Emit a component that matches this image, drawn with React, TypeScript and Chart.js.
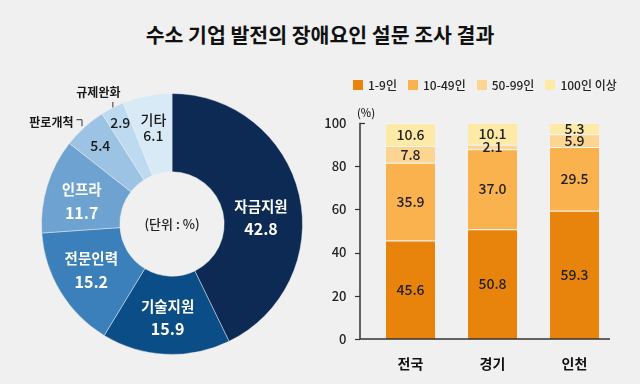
import React, { useEffect, useRef } from "react";
import { Chart, registerables } from "chart.js";

Chart.register(...registerables);

const TITLE = "수소 기업 발전의 장애요인 설문 조사 결과";
const UNIT_TEXT = "(단위 : %)";

const donutLabels = ["자금지원", "기술지원", "전문인력", "인프라", "판로개척", "규제완화", "기타"];
const donutValues = [42.8, 15.9, 15.2, 11.7, 5.4, 2.9, 6.1];
const donutColors = ["#0c2a53", "#0b4d86", "#3b80bb", "#6ea2d1", "#9cc3e4", "#bddaf0", "#d9eaf7"];
// style: where each label sits inside its ring (0 = inner edge, 1 = outer edge), plus a small vertical nudge
const donutLabelPos = [0.5, 0.52, 0.54, 0.54, 0.7, 0.78, 0.58];
const donutLabelNudge = [14, 1, -3, 5, 1, -1, 0];
const donutTextColors = ["#ffffff", "#ffffff", "#ffffff", "#ffffff", "#1a1a1a", "#1a1a1a", "#1a1a1a"];
const donutNameOutside = [false, false, false, false, true, true, false];
const donutBigText = [true, true, true, true, false, false, false];

const barCategories = ["전국", "경기", "인천"];
const seriesNames = ["1-9인", "10-49인", "50-99인", "100인 이상"];
const series1 = [45.6, 50.8, 59.3];
const series2 = [35.9, 37.0, 29.5];
const series3 = [7.8, 2.1, 5.9];
const series4 = [10.6, 10.1, 5.3];
const seriesColors = ["#e8840b", "#f9b24e", "#fdd490", "#feeaa7"];
const yTicks = [0, 20, 40, 60, 80, 100];

const FONT = "'Noto Sans CJK KR', 'Noto Sans', sans-serif";

const donutLabelPlugin = {
  id: "donutLabels",
  afterDatasetsDraw(chart: any) {
    const ctx = chart.ctx;
    const meta = chart.getDatasetMeta(0);
    ctx.save();
    ctx.textAlign = "center";
    ctx.textBaseline = "middle";
    meta.data.forEach((arc: any, i: number) => {
      const p = arc.getProps(["x", "y", "startAngle", "endAngle", "innerRadius", "outerRadius"], true);
      const mid = (p.startAngle + p.endAngle) / 2;
      const r = p.innerRadius + (p.outerRadius - p.innerRadius) * donutLabelPos[i];
      const cx = p.x + Math.cos(mid) * r;
      const cy = p.y + Math.sin(mid) * r + donutLabelNudge[i];
      const val = donutValues[i].toFixed(1);
      ctx.fillStyle = donutTextColors[i];
      if (donutNameOutside[i]) {
        ctx.font = `500 14px ${FONT}`;
        ctx.fillText(val, cx, cy);
        const ox = p.x + Math.cos(mid) * p.outerRadius;
        const oy = p.y + Math.sin(mid) * p.outerRadius;
        ctx.strokeStyle = "#333";
        ctx.lineWidth = 1;
        ctx.font = `bold 12px ${FONT}`;
        ctx.fillStyle = "#1a1a1a";
        if (Math.cos(mid) < -0.6) {
          ctx.textAlign = "right";
          ctx.fillText(donutLabels[i], ox - 11, oy - 5);
          ctx.beginPath();
          ctx.moveTo(ox - 8, oy - 7.5);
          ctx.lineTo(ox - 2.5, oy - 7.5);
          ctx.lineTo(ox - 2.5, oy - 1);
          ctx.stroke();
          ctx.textAlign = "center";
        } else {
          ctx.fillText(donutLabels[i], ox - 14, oy - 15);
          ctx.beginPath();
          ctx.moveTo(ox + 0.5, oy - 6);
          ctx.lineTo(ox + 0.5, oy - 0.5);
          ctx.stroke();
        }
      } else if (donutBigText[i]) {
        ctx.font = `bold 14.5px ${FONT}`;
        ctx.fillText(donutLabels[i], cx, cy - 11.5);
        ctx.font = `bold 16px ${FONT}`;
        ctx.fillText(val, cx, cy + 11.5);
      } else {
        ctx.font = `500 14px ${FONT}`;
        ctx.fillText(donutLabels[i], cx, cy - 8);
        ctx.fillText(val, cx, cy + 8);
      }
    });
    const c = meta.data[0];
    ctx.fillStyle = "#222";
    ctx.font = `500 13px ${FONT}`;
    ctx.fillText(UNIT_TEXT, c.x, c.y);
    ctx.restore();
  },
};

const barLabelPlugin = {
  id: "barLabels",
  afterDatasetsDraw(chart: any) {
    const ctx = chart.ctx;
    ctx.save();
    ctx.textAlign = "center";
    ctx.textBaseline = "middle";
    ctx.fillStyle = "#222";
    ctx.font = `500 14px ${FONT}`;
    chart.data.datasets.forEach((ds: any, di: number) => {
      const meta = chart.getDatasetMeta(di);
      meta.data.forEach((bar: any, i: number) => {
        const p = bar.getProps(["x", "y", "base"], true);
        ctx.fillText(Number(ds.data[i]).toFixed(1), p.x, (p.y + p.base) / 2);
      });
    });
    ctx.restore();
  },
};

const axisPlugin = {
  id: "customAxes",
  afterDraw(chart: any) {
    const ctx = chart.ctx;
    const ys = chart.scales.y;
    const area = chart.chartArea;
    const ax = area.left - 9.5;
    const top = ys.getPixelForValue(100);
    const bottom = ys.getPixelForValue(0);
    ctx.save();
    ctx.strokeStyle = "#333";
    ctx.lineWidth = 1.5;
    ctx.beginPath();
    ctx.moveTo(ax, top);
    ctx.lineTo(ax, bottom);
    ctx.lineTo(area.right - 5.5, bottom);
    ctx.stroke();
    ctx.lineWidth = 1.2;
    yTicks.forEach((t) => {
      const py = Math.round(ys.getPixelForValue(t)) + 0.5;
      ctx.beginPath();
      if (t === 100) {
        ctx.moveTo(ax, py);
        ctx.lineTo(ax + 5, py);
      } else {
        ctx.moveTo(ax - 5, py);
        ctx.lineTo(ax, py);
      }
      ctx.stroke();
    });
    ctx.fillStyle = "#222";
    ctx.font = `500 11px ${FONT}`;
    ctx.textAlign = "center";
    ctx.textBaseline = "middle";
    ctx.fillText("(%)", ax + 6, top - 10);
    ctx.restore();
  },
};

function DonutChart() {
  const ref = useRef<HTMLCanvasElement | null>(null);
  useEffect(() => {
    if (!ref.current) return;
    const chart = new Chart(ref.current, {
      type: "doughnut",
      data: {
        labels: donutLabels,
        datasets: [
          {
            data: donutValues,
            backgroundColor: donutColors,
            borderColor: "rgba(240,240,240,0.45)",
            borderWidth: 1,
          },
        ],
      },
      options: {
        animation: false,
        responsive: false,
        maintainAspectRatio: false,
        cutout: "40%",
        rotation: 0,
        layout: { padding: 29 },
        plugins: { legend: { display: false }, tooltip: { enabled: false } },
      },
      plugins: [donutLabelPlugin],
    } as any);
    return () => chart.destroy();
  }, []);
  return <canvas ref={ref} width={320} height={320} style={{ position: "absolute", left: 12, top: 64, width: 320, height: 320 }} />;
}

function BarChart() {
  const ref = useRef<HTMLCanvasElement | null>(null);
  useEffect(() => {
    if (!ref.current) return;
    const seriesData = [series1, series2, series3, series4];
    const chart = new Chart(ref.current, {
      type: "bar",
      data: {
        labels: barCategories,
        datasets: seriesNames.map((name, i) => ({
          label: name,
          data: seriesData[i],
          backgroundColor: seriesColors[i],
          borderColor: "rgba(255,255,255,0.4)",
          borderWidth: { top: 1, left: 0, right: 0, bottom: 0 },
          borderSkipped: false,
          barPercentage: 0.6,
          categoryPercentage: 1,
        })),
      },
      options: {
        animation: false,
        responsive: false,
        maintainAspectRatio: false,
        layout: { padding: { top: 22, right: 24.5, left: 0, bottom: 0 } },
        plugins: { legend: { display: false }, tooltip: { enabled: false } },
        scales: {
          x: {
            stacked: true,
            grid: { display: false },
            border: { display: false },
            ticks: { color: "#111", font: { family: FONT, size: 14, weight: "bold" }, padding: 8 },
            afterFit: (s: any) => {
              s.height = 45;
            },
          },
          y: {
            stacked: true,
            min: 0,
            max: 100,
            afterBuildTicks: (s: any) => {
              s.ticks = yTicks.map((v) => ({ value: v }));
            },
            grid: { display: false },
            border: { display: false },
            ticks: { color: "#222", font: { family: FONT, size: 13, weight: "500" }, padding: 15 },
            afterFit: (s: any) => {
              s.width = 49.5;
            },
          },
        },
      },
      plugins: [barLabelPlugin, axisPlugin],
    } as any);
    return () => chart.destroy();
  }, []);
  return <canvas ref={ref} width={320} height={284} style={{ position: "absolute", left: 320, top: 100, width: 320, height: 284 }} />;
}

export default function App() {
  return (
    <div
      style={{
        position: "fixed",
        left: 0,
        top: 0,
        width: 640,
        height: 384,
        background: "#f0f0f0",
        overflow: "hidden",
        fontFamily: FONT,
      }}
    >
      <div
        style={{
          position: "absolute",
          top: 21,
          left: 0,
          width: 640,
          textAlign: "center",
          fontSize: 20.5,
          lineHeight: "26px",
          fontWeight: "bold",
          color: "#111",
        }}
      >
        {TITLE}
      </div>
      <DonutChart />
      <BarChart />
      <div
        style={{
          position: "absolute",
          top: 77,
          left: 353,
          display: "flex",
          alignItems: "center",
          fontSize: 12,
          lineHeight: "16px",
          fontWeight: 500,
          color: "#222",
        }}
      >
        {seriesNames.map((n, i) => (
          <div key={n} style={{ display: "flex", alignItems: "center", marginRight: 11 }}>
            <span style={{ display: "inline-block", width: 10, height: 10, background: seriesColors[i], marginRight: 5 }} />
            <span>{n}</span>
          </div>
        ))}
      </div>
    </div>
  );
}
